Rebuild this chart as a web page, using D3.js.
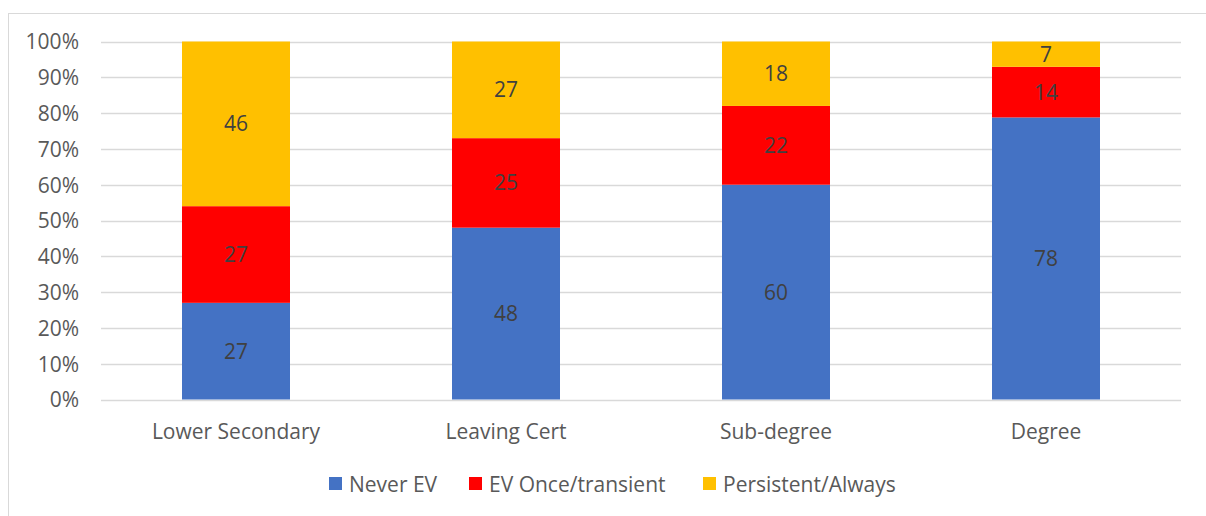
<!DOCTYPE html>
<html><head><meta charset="utf-8">
<script src="https://cdn.jsdelivr.net/npm/d3@7"></script>
<style>html,body{margin:0;padding:0;background:#fff;}svg{display:block;}</style>
</head><body>
<svg id="c" width="1206" height="516"></svg>
<script>
const categories = ["Lower Secondary", "Leaving Cert", "Sub-degree", "Degree"];
const seriesNames = ["Never EV", "EV Once/transient", "Persistent/Always"];
const neverEV = [27, 48, 60, 78];
const evOnce = [27, 25, 22, 14];
const persistent = [46, 27, 18, 7];
const seriesColors = ["#4472C4", "#FF0000", "#FFC000"];
const yTicks = [0, 0.1, 0.2, 0.3, 0.4, 0.5, 0.6, 0.7, 0.8, 0.9, 1.0];

const FONT = "'Open Sans', sans-serif";
const svg = d3.select("#c");

svg.append("rect").attr("x", 8.5).attr("y", 13.5).attr("width", 1400).attr("height", 600)
  .attr("fill", "none").attr("stroke", "#D9D9D9").attr("stroke-width", 1);

const x = d3.scaleBand().domain(categories).range([101, 1181]).paddingInner(0.6).paddingOuter(0.3);
const y = d3.scaleLinear().domain([0, 1]).range([399.5, 41.5]);

// gridlines
svg.append("g").selectAll("line").data(yTicks).join("line")
  .attr("x1", 101).attr("x2", 1181)
  .attr("y1", d => Math.round(y(d)) + 0.5).attr("y2", d => Math.round(y(d)) + 0.5)
  .attr("stroke", "#D9D9D9").attr("stroke-width", 1.3);

// y axis labels
const yAxis = d3.axisLeft(y).tickValues(yTicks).tickFormat(d3.format(".0%")).tickSize(0).tickPadding(0);
const gy = svg.append("g").attr("transform", "translate(79,0)").call(yAxis);
gy.select(".domain").remove();
gy.selectAll("text").attr("font-family", FONT).attr("font-size", 21).attr("fill", "#595959").attr("dy", "0.35em");

// data
const rows = categories.map((c, i) => ({cat: c, "Never EV": neverEV[i], "EV Once/transient": evOnce[i], "Persistent/Always": persistent[i]}));
const stack = d3.stack().keys(seriesNames).offset(d3.stackOffsetExpand);
const layers = stack(rows);

const gBars = svg.append("g");
layers.forEach((layer, li) => {
  const g = gBars.append("g").attr("fill", seriesColors[li]);
  g.selectAll("rect").data(layer).join("rect")
    .attr("x", d => x(d.data.cat))
    .attr("width", x.bandwidth())
    .attr("y", d => y(d[1]))
    .attr("height", d => y(d[0]) - y(d[1]));
});
layers.forEach((layer, li) => {
  svg.append("g").selectAll("text").data(layer).join("text")
    .attr("x", d => x(d.data.cat) + x.bandwidth() / 2)
    .attr("y", d => (y(d[0]) + y(d[1])) / 2)
    .attr("dy", "0.36em")
    .attr("text-anchor", "middle")
    .attr("font-family", FONT).attr("font-size", 21).attr("fill", "#404040")
    .text(d => d.data[layer.key]);
});

// x axis labels
const xAxis = d3.axisBottom(x).tickSize(0).tickPadding(0);
const gx = svg.append("g").attr("transform", "translate(0,439)").call(xAxis);
gx.select(".domain").remove();
gx.selectAll("text").attr("font-family", FONT).attr("font-size", 21).attr("fill", "#595959").attr("dy", 0).attr("y", 0);

// legend
const legendX = [329, 469, 703];
const lg = svg.append("g");
seriesNames.forEach((s, i) => {
  lg.append("rect").attr("x", legendX[i]).attr("y", 477).attr("width", 13).attr("height", 13).attr("fill", seriesColors[i]);
  lg.append("text").attr("x", legendX[i] + 20).attr("y", 492)
    .attr("font-family", FONT).attr("font-size", 21).attr("fill", "#595959").text(s);
});
</script>
</body></html>
